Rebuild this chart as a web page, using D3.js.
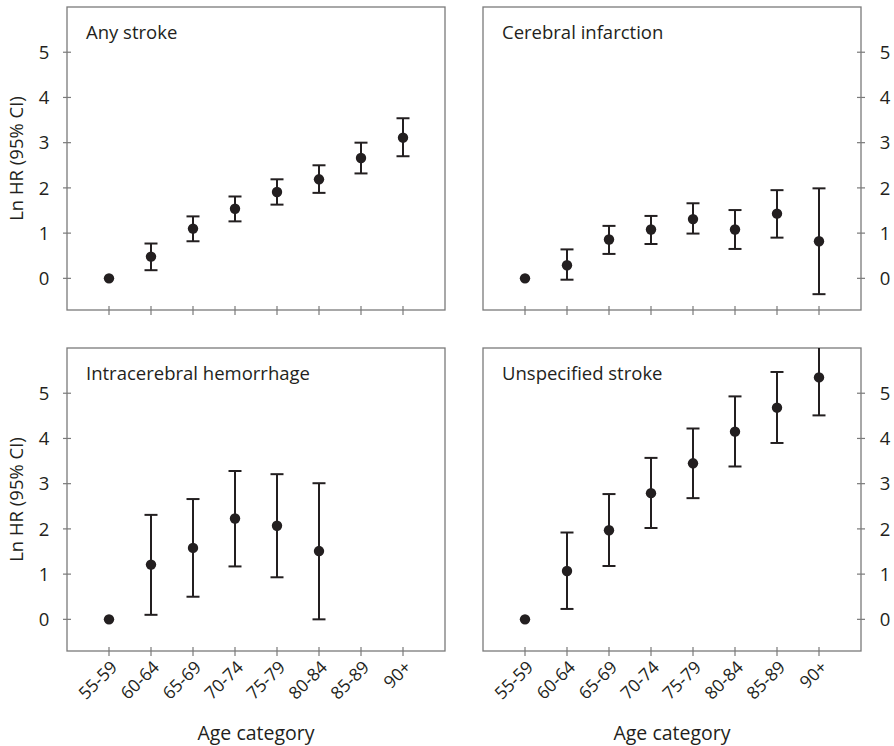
<!DOCTYPE html>
<html>
<head>
<meta charset="utf-8">
<script src="https://cdn.jsdelivr.net/npm/d3@7"></script>
<style>
  html, body { margin: 0; padding: 0; background: #fff; }
  svg { display: block; }
  text { font-family: "Open Sans", "Noto Sans", sans-serif; fill: #231f20; }
</style>
</head>
<body>
<svg id="chart" width="894" height="746"></svg>
<script>
// Age categories shared by all panels
const ageCategories = ["55-59", "60-64", "65-69", "70-74", "75-79", "80-84", "85-89", "90+"];
const yTicks = [0, 1, 2, 3, 4, 5];

// Ln HR point estimates and 95% CI bounds (null = not estimated; reference group has no interval)
const anyStrokeEst   = [0, 0.48, 1.10, 1.54, 1.91, 2.19, 2.66, 3.11];
const anyStrokeLow   = [null, 0.18, 0.82, 1.26, 1.63, 1.89, 2.32, 2.70];
const anyStrokeHigh  = [null, 0.77, 1.37, 1.81, 2.19, 2.50, 3.00, 3.54];

const infarctionEst  = [0, 0.29, 0.86, 1.08, 1.31, 1.08, 1.43, 0.82];
const infarctionLow  = [null, -0.03, 0.54, 0.76, 0.99, 0.65, 0.90, -0.35];
const infarctionHigh = [null, 0.64, 1.16, 1.38, 1.66, 1.51, 1.95, 1.99];

const ichEst         = [0, 1.21, 1.58, 2.23, 2.07, 1.51, null, null];
const ichLow         = [null, 0.10, 0.50, 1.17, 0.93, 0.00, null, null];
const ichHigh        = [null, 2.31, 2.66, 3.28, 3.21, 3.01, null, null];

const unspecEst      = [0, 1.07, 1.97, 2.79, 3.45, 4.15, 4.68, 5.35];
const unspecLow      = [null, 0.23, 1.18, 2.02, 2.68, 3.38, 3.90, 4.51];
const unspecHigh     = [null, 1.92, 2.77, 3.57, 4.22, 4.93, 5.47, 6.30];

const panelTitles = ["Any stroke", "Cerebral infarction", "Intracerebral hemorrhage", "Unspecified stroke"];

const panels = [
  { title: panelTitles[0], est: anyStrokeEst,  low: anyStrokeLow,  high: anyStrokeHigh,  x0: 67,  y0: 7,   axis: "left",  xLabels: false },
  { title: panelTitles[1], est: infarctionEst, low: infarctionLow, high: infarctionHigh, x0: 483, y0: 7,   axis: "right", xLabels: false },
  { title: panelTitles[2], est: ichEst,        low: ichLow,        high: ichHigh,        x0: 67,  y0: 348, axis: "left",  xLabels: true },
  { title: panelTitles[3], est: unspecEst,     low: unspecLow,     high: unspecHigh,     x0: 483, y0: 348, axis: "right", xLabels: true }
];

const W = 378, H = 303;
const svg = d3.select("#chart");
const frameColor = "#7a7a7a";
const inkColor = "#231f20";

panels.forEach((p, pi) => {
  const g = svg.append("g").attr("transform", `translate(${p.x0},${p.y0})`);

  const x = d3.scalePoint().domain(ageCategories).range([0, W]).padding(1);
  const y = d3.scaleLinear().domain([-0.7, 6.0]).range([H, 0]);

  const clipId = "clip" + pi;
  g.append("clipPath").attr("id", clipId)
    .append("rect").attr("x", 0).attr("y", 0).attr("width", W).attr("height", H);

  // frame
  g.append("rect").attr("x", 0).attr("y", 0).attr("width", W).attr("height", H)
    .attr("fill", "none").attr("stroke", frameColor).attr("stroke-width", 1.3);

  // y axis ticks crossing the frame
  const yAxisX = p.axis === "left" ? 0 : W;
  g.selectAll(".ytick").data(yTicks).enter().append("line")
    .attr("x1", yAxisX - 4).attr("x2", yAxisX + 4)
    .attr("y1", d => y(d)).attr("y2", d => y(d))
    .attr("stroke", frameColor).attr("stroke-width", 1.2);
  g.selectAll(".ylab").data(yTicks).enter().append("text")
    .attr("x", p.axis === "left" ? -23 : W + 24)
    .attr("y", d => y(d))
    .attr("dy", "0.36em")
    .attr("text-anchor", "middle")
    .attr("font-size", 18.5)
    .text(d => d);

  // x axis ticks crossing the frame
  g.selectAll(".xtick").data(ageCategories).enter().append("line")
    .attr("x1", d => x(d)).attr("x2", d => x(d))
    .attr("y1", H - 4).attr("y2", H + 5)
    .attr("stroke", frameColor).attr("stroke-width", 1.2);

  if (p.xLabels) {
    g.selectAll(".xlab").data(ageCategories).enter().append("text")
      .attr("transform", d => `translate(${x(d) + 5},${H + 13}) rotate(-45)`)
      .attr("text-anchor", "end")
      .attr("dy", "0.35em")
      .attr("font-size", 17.5)
      .text(d => d);
    g.append("text")
      .attr("x", W / 2).attr("y", H + 89)
      .attr("text-anchor", "middle")
      .attr("font-size", 19.5)
      .text("Age category");
  }

  if (p.axis === "left") {
    g.append("text")
      .attr("transform", `translate(-44,${H / 2}) rotate(-90)`)
      .attr("text-anchor", "middle")
      .attr("font-size", 18.5)
      .text("Ln HR (95% CI)");
  }

  // panel title
  g.append("text").attr("x", 19).attr("y", 32)
    .attr("font-size", 18.5).text(p.title);

  // error bars and points
  const rows = ageCategories.map((c, i) => ({ c, est: p.est[i], low: p.low[i], high: p.high[i] }))
    .filter(d => d.est !== null);
  const marks = g.append("g").attr("clip-path", `url(#${clipId})`);
  const ci = rows.filter(d => d.low !== null);
  const cap = 6.5;
  marks.selectAll(".stem").data(ci).enter().append("line")
    .attr("x1", d => x(d.c)).attr("x2", d => x(d.c))
    .attr("y1", d => y(d.low)).attr("y2", d => y(d.high))
    .attr("stroke", inkColor).attr("stroke-width", 2);
  marks.selectAll(".capHi").data(ci).enter().append("line")
    .attr("x1", d => x(d.c) - cap).attr("x2", d => x(d.c) + cap)
    .attr("y1", d => y(d.high)).attr("y2", d => y(d.high))
    .attr("stroke", inkColor).attr("stroke-width", 2);
  marks.selectAll(".capLo").data(ci).enter().append("line")
    .attr("x1", d => x(d.c) - cap).attr("x2", d => x(d.c) + cap)
    .attr("y1", d => y(d.low)).attr("y2", d => y(d.low))
    .attr("stroke", inkColor).attr("stroke-width", 2);
  marks.selectAll(".pt").data(rows).enter().append("circle")
    .attr("cx", d => x(d.c)).attr("cy", d => y(d.est))
    .attr("r", 5.2).attr("fill", inkColor);
});
</script>
</body>
</html>
